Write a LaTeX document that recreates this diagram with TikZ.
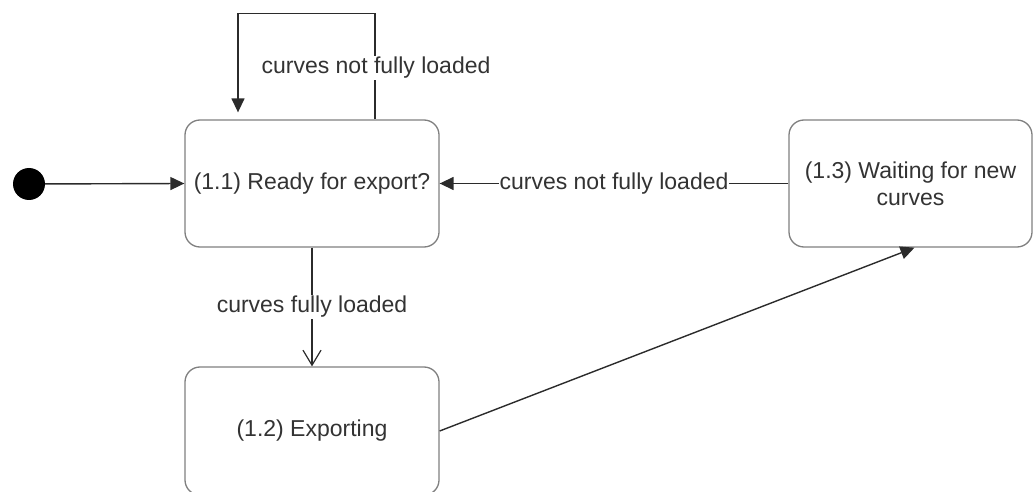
\documentclass[tikz,border=0pt]{standalone}
\usepackage{fontspec}
\setmainfont{Liberation Sans}
\usetikzlibrary{arrows.meta,calc}
\definecolor{txt}{HTML}{333333}
\definecolor{edge}{HTML}{808080}
\definecolor{wire}{HTML}{2b2b2b}
\begin{document}
\begin{tikzpicture}[x=1pt,y=-1pt,
  font=\fontsize{23}{27}\selectfont,
  state/.style={draw=edge,line width=1.3pt,rounded corners=15pt,fill=white,
    text=txt,align=center,inner sep=4pt},
  startdot/.style={circle,fill=black,minimum size=32pt,inner sep=0pt},
  wireline/.style={draw=wire,line width=1.4pt},
  solid tip/.style={-{Triangle[length=14pt,width=13pt]}},
  open tip/.style={-{Straight Barb[length=15pt,width=18pt,line width=1.2pt]}},
  lbl/.style={fill=white,text=txt,inner sep=1pt}]
\useasboundingbox (0,0) rectangle (1034,492);

% states
\node[state,minimum width=254pt,minimum height=127pt] (ready) at (312,183.5) {(1.1) Ready for export?};
\node[state,minimum width=254pt,minimum height=128pt] (exporting) at (312,431) {(1.2) Exporting};
\node[state,minimum width=243pt,minimum height=127pt] (waiting) at (910.5,183.5) {(1.3) Waiting for new\\curves};
\node[startdot] (init) at (29,184) {};

% transitions
\draw[wireline,solid tip] (init) -- (ready.west);

\draw[wireline,solid tip,shorten >=7pt]
  ([xshift=63pt]ready.north) -- ++(0,-106) -| ([xshift=-74pt]ready.north)
  node[pos=0.0,coordinate] (loopstart) {};
\node[lbl] (looplabel) at (376,68) {curves not fully loaded};

\draw[wireline,solid tip] (waiting.west |- ready.east) -- (ready.east)
  node[midway,lbl] (backlabel) {curves not fully loaded};

\draw[wireline,open tip] (ready.south) -- (exporting.north)
  node[midway,lbl] (downlabel) {curves fully loaded};

\draw[wireline,solid tip] (exporting.east) -- ([xshift=4pt]waiting.south);
\end{tikzpicture}
\end{document}
